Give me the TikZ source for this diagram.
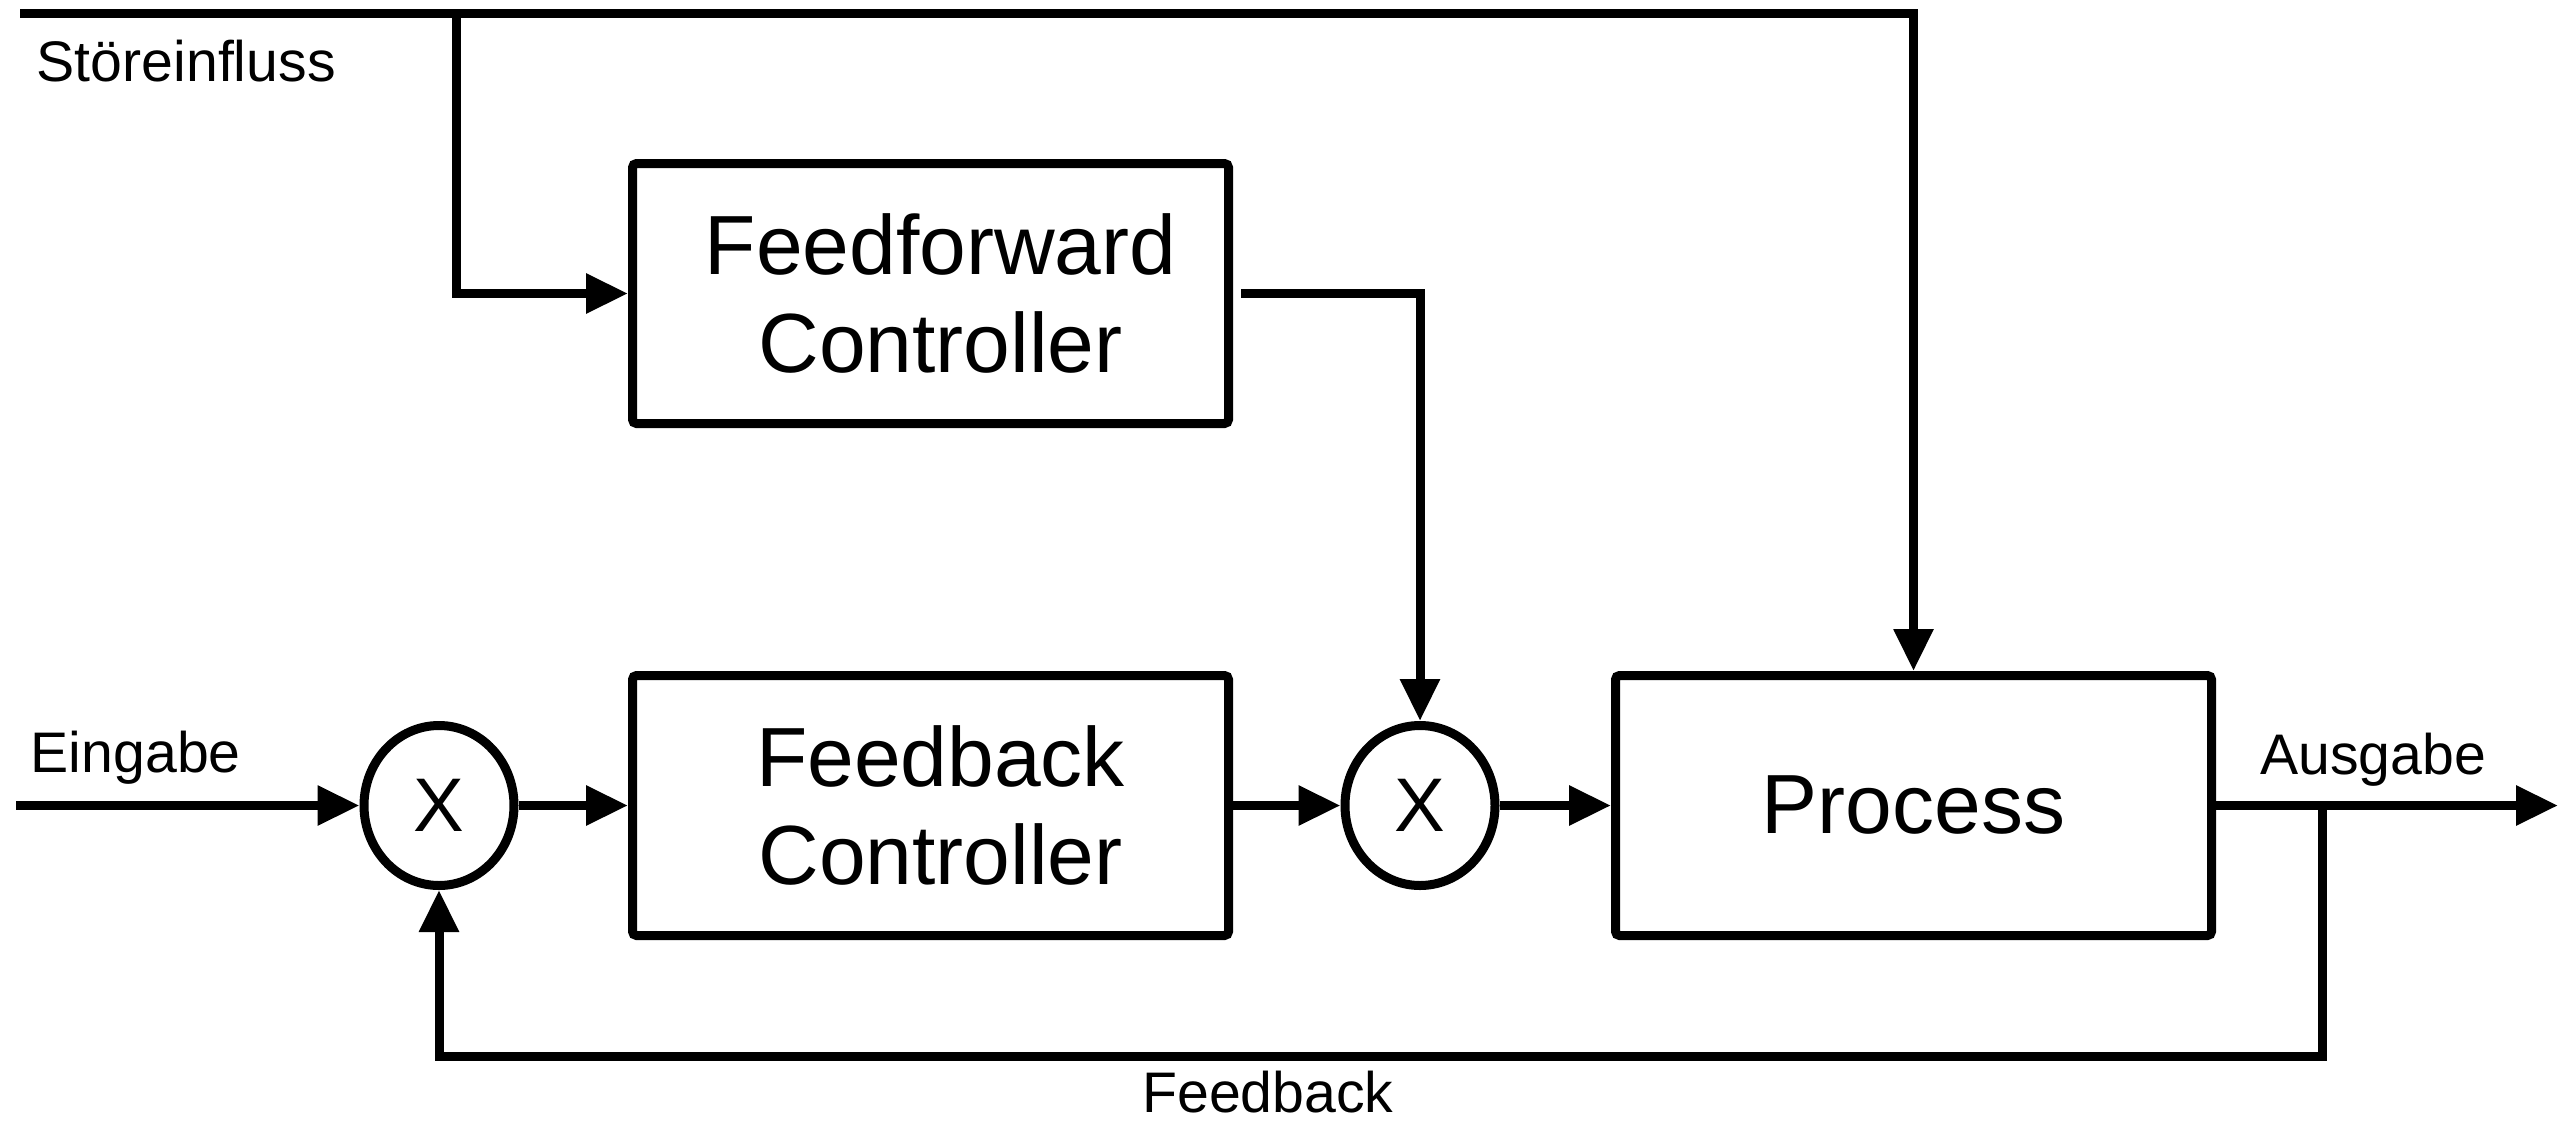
\documentclass[tikz,border=0pt]{standalone}
\usepackage{fontspec}
\setmainfont{Liberation Sans}
\usetikzlibrary{arrows.meta,shapes.geometric}
\begin{document}
\begin{tikzpicture}[x=0.25pt,y=-0.25pt,
  wire/.style={line width=2.25pt},
  flow/.style={wire,-{Triangle[length=10.5pt,width=9.5pt]}},
  block/.style={draw,line width=2.25pt,rounded corners=1pt,
    minimum width=149pt,minimum height=65pt,inner sep=0pt,
    align=center,font=\fontsize{21}{24.6}\selectfont},
  junction/.style={draw,ellipse,line width=2.25pt,
    minimum width=37.5pt,minimum height=40pt,inner sep=0pt,
    font=\fontsize{19}{22}\selectfont},
  label/.style={inner sep=0pt,font=\fontsize{14.3}{16}\selectfont}]
  \useasboundingbox (0,0) rectangle (2571,1125);

  % blocks
  \node[block] (ff)   at (930.5,293.5)
    {\hspace*{5pt}Feedforward\\\hspace*{5pt}Controller};
  \node[block] (fb)   at (930.5,805.5)
    {\hspace*{5pt}Feedback\\\hspace*{5pt}Controller};
  \node[block] (proc) at (1913.5,805.5) {Process};

  % mixing points
  \node[junction] (sum1) at (439,805.5)  {X};
  \node[junction] (sum2) at (1420,805.5) {X};

  % free ends and taps
  \coordinate (dist) at (20,13);
  \coordinate (tap1) at (456,13);
  \coordinate (in)   at (16,805.5);
  \coordinate (out)  at (2558,805.5);
  \coordinate (tap2) at (2322,805.5);
  \coordinate (fbk)  at (2322,1056);

  % disturbance paths
  \draw[flow] (dist) -| (proc.north);
  \draw[flow] (tap1) |- (ff.west);
  \draw[flow] ([xshift=2pt]ff.east) -| (sum2.north);

  % main signal path
  \draw[flow] (in) -- (sum1.west);
  \draw[flow] (sum1.east) -- (fb.west);
  \draw[flow] (fb.east) -- (sum2.west);
  \draw[flow] (sum2.east) -- (proc.west);
  \draw[flow] (proc.east) -- (out);

  % feedback loop
  \draw[flow] (tap2) -- (fbk) -| (sum1.south);

  % labels
  \node[label,anchor=west] (lstoer) at (36,61)   {Störeinfluss};
  \node[label,anchor=west] (lein)   at (30,758)  {Eingabe};
  \node[label]             (laus)   at (2373,760) {Ausgabe};
  \node[label]             (lfb)    at (1268,1092) {Feedback};
\end{tikzpicture}
\end{document}
